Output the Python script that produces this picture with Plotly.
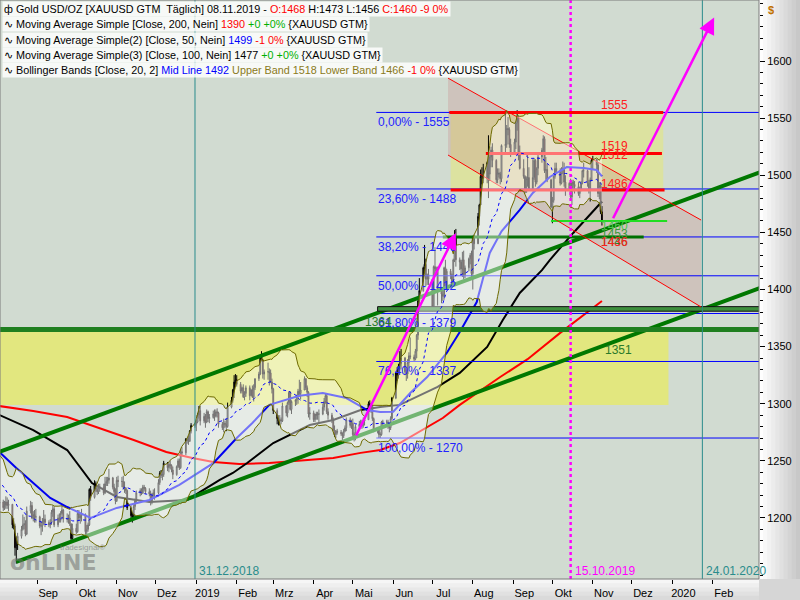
import pandas as pd
import plotly.graph_objects as go

# ---------------- daily XAUUSD prices ----------------
first_open = 1257
close = [
 1255,
 1258,1254,1245,1246,1241, 1240,1227,1225,1223,1231, 1224,1225,1231,1224,1223, 1221,1223,1218,1213,1214,
 1209,1211,1214,1211,1212, 1194,1193,1174,1177,1184, 1190,1194,1195,1186,1206, 1211,1200,1203,1201,1201,
 1193,1193,1197,1199,1196, 1194,1196,1205,1208,1194, 1200,1198,1204,1207,1199, 1199,1200,1195,1182,1191,
 1188,1204,1200,1202,1203, 1188,1190,1194,1225,1218, 1230,1225,1223,1227,1227, 1222,1230,1232,1233,1235,
 1227,1223,1215,1233,1232, 1232,1227,1226,1224,1209, 1202,1201,1210,1215,1222, 1224,1222,1227,1226,1223,
 1221,1214,1220,1222,1222, 1231,1239,1237,1238,1248, 1244,1247,1246,1242,1238, 1245,1250,1244,1258,1257,
 1269,1268,1267,1276,1281, 1282,1284,1290,1294,1285, 1289,1284,1293,1287,1288, 1291,1289,1293,1292,1282,
 1279,1283,1282,1280,1297, 1303,1312,1319,1321,1317, 1311,1314,1306,1309,1314, 1307,1312,1306,1314,1322,
 1326,1341,1338,1326,1328, 1328,1327,1319,1313,1294, 1287,1285,1286,1285,1298, 1292,1301,1310,1295,1302,
 1303,1306,1311,1309,1312, 1322,1314,1310,1291,1292, 1286,1291,1290,1291,1291, 1297,1302,1307,1293,1290,
 1286,1277,1273,1276,1275, 1274,1272,1276,1279,1286, 1281,1283,1273,1271,1280, 1282,1284,1281,1285,1286,
 1300,1296,1298,1287,1277, 1277,1273,1273,1284,1284, 1284,1280,1279,1287,1305, 1327,1325,1333,1335,1340,
 1328,1326,1336,1342,1341, 1339,1346,1360,1390,1399, 1419,1422,1409,1413,1409, 1385,1420,1418,1416,1400,
 1396,1394,1419,1404,1416, 1413,1405,1426,1445,1426, 1424,1418,1426,1413,1419, 1427,1430,1414,1446,1440,
 1464,1474,1499,1500,1497, 1511,1501,1516,1522,1513, 1496,1502,1501,1497,1526, 1527,1541,1540,1527,1520,
 1529,1546,1550,1519,1506, 1499,1485,1497,1498,1488, 1498,1513,1494,1506,1516, 1522,1532,1504,1505,1496,
 1472,1478,1499,1506,1504, 1493,1506,1505,1494,1488, 1493,1481,1494,1492,1490, 1484,1488,1493,1504,1504,
 1493,1487,1496,1513,1514, 1509,1484,1491,1468,1460,
]
high = [
 1262,
 1265,1260,1256,1249,1249, 1245,1243,1229,1227,1233, 1232,1229,1235,1231,1228, 1226,1227,1226,1221,1218,
 1216,1215,1219,1218,1216, 1212,1200,1195,1184,1187, 1193,1203,1201,1198,1210, 1215,1214,1206,1207,1208,
 1202,1197,1200,1207,1203, 1198,1199,1207,1211,1210, 1203,1204,1206,1211,1208, 1204,1203,1206,1195,1195,
 1195,1207,1207,1204,1208, 1204,1194,1196,1226,1228, 1233,1232,1227,1230,1230, 1230,1236,1236,1236,1243,
 1236,1230,1226,1236,1237, 1236,1237,1232,1227,1225, 1211,1205,1212,1217,1224, 1226,1226,1229,1229,1227,
 1226,1224,1222,1225,1226, 1234,1241,1242,1242,1250, 1249,1249,1250,1247,1245, 1246,1252,1252,1260,1262,
 1270,1270,1272,1277,1283, 1283,1286,1292,1298,1298, 1292,1291,1295,1294,1291, 1294,1295,1295,1296,1293,
 1284,1287,1285,1287,1301, 1306,1313,1325,1326,1325, 1319,1315,1317,1311,1316, 1316,1313,1316,1317,1322,
 1328,1342,1346,1339,1330, 1336,1331,1330,1322,1314, 1296,1290,1290,1288,1301, 1299,1302,1311,1311,1303,
 1304,1308,1313,1321,1319, 1324,1322,1316,1311,1297, 1294,1291,1293,1293,1295, 1300,1305,1309,1309,1296,
 1292,1288,1281,1277,1278, 1277,1275,1278,1281,1288, 1288,1286,1287,1275,1282, 1285,1286,1286,1288,1288,
 1302,1303,1300,1299,1288, 1279,1279,1275,1285,1286, 1286,1286,1283,1289,1306, 1328,1332,1335,1346,1348,
 1341,1330,1339,1345,1358, 1343,1348,1361,1393,1410, 1420,1439,1427,1414,1418, 1409,1421,1437,1420,1420,
 1401,1402,1420,1426,1418, 1418,1414,1427,1452,1453, 1428,1426,1433,1434,1421, 1428,1432,1434,1447,1448,
 1467,1475,1505,1507,1510, 1512,1535,1518,1525,1528, 1514,1506,1506,1503,1527, 1555,1544,1551,1542,1532,
 1532,1547,1557,1552,1526, 1514,1500,1499,1520,1507, 1514,1515,1514,1507,1518, 1524,1535,1534,1516,1510,
 1497,1481,1501,1511,1511, 1506,1507,1512,1511,1500, 1494,1497,1496,1496,1495, 1494,1490,1495,1505,1511,
 1505,1496,1498,1514,1517, 1514,1511,1494,1494,1473,
]
low = [
 1252,
 1254,1252,1242,1240,1238, 1237,1225,1219,1211,1221, 1221,1220,1223,1221,1220, 1218,1217,1213,1206,1204,
 1206,1207,1208,1208,1206, 1191,1190,1167,1160,1172, 1182,1189,1190,1184,1185, 1204,1199,1197,1196,1196,
 1191,1185,1188,1194,1192, 1192,1191,1194,1201,1192, 1192,1196,1196,1203,1196, 1196,1195,1193,1180,1181,
 1186,1187,1198,1195,1197, 1183,1185,1188,1193,1215, 1217,1223,1220,1221,1223, 1220,1221,1228,1228,1230,
 1225,1220,1212,1214,1227, 1227,1225,1222,1221,1207, 1200,1196,1200,1207,1213, 1219,1220,1221,1224,1221,
 1219,1211,1212,1218,1216, 1221,1229,1235,1233,1236, 1241,1240,1243,1240,1234, 1237,1244,1242,1243,1254,
 1255,1265,1264,1267,1274, 1279,1276,1283,1287,1281, 1283,1279,1283,1284,1283, 1287,1285,1288,1288,1279,
 1277,1275,1279,1276,1279, 1296,1301,1305,1315,1315, 1309,1309,1305,1303,1306, 1303,1307,1305,1302,1312,
 1320,1325,1337,1322,1321, 1321,1316,1318,1309,1291, 1282,1281,1281,1282,1284, 1289,1288,1299,1294,1291,
 1298,1299,1300,1306,1304, 1312,1312,1306,1288,1286, 1284,1284,1286,1286,1283, 1290,1294,1300,1291,1286,
 1283,1276,1271,1270,1273, 1272,1266,1270,1275,1276, 1279,1278,1271,1267,1268, 1277,1280,1278,1279,1281,
 1286,1293,1292,1285,1275, 1274,1270,1270,1272,1280, 1281,1278,1275,1277,1286, 1304,1320,1322,1330,1330,
 1325,1320,1322,1331,1339, 1337,1338,1340,1356,1383, 1398,1414,1403,1404,1404, 1381,1384,1412,1412,1386,
 1388,1390,1391,1401,1403, 1409,1401,1405,1424,1420, 1417,1412,1411,1409,1410, 1416,1422,1411,1400,1435,
 1440,1456,1474,1492,1493, 1493,1480,1495,1507,1507, 1493,1493,1498,1492,1494, 1518,1524,1535,1524,1516,
 1518,1523,1539,1513,1505, 1497,1484,1485,1490,1487, 1486,1496,1490,1492,1500, 1511,1518,1502,1496,1494,
 1471,1458,1476,1497,1501, 1491,1492,1501,1490,1482, 1486,1480,1474,1486,1484, 1482,1480,1486,1492,1498,
 1490,1484,1477,1495,1505, 1502,1481,1479,1466,1456,
]

# ---------------- moving averages ----------------
ma200_date = ["2018-08-03","2018-08-29","2018-09-24","2018-10-19","2018-11-14","2018-12-09","2018-12-29",
              "2019-01-14","2019-02-03","2019-02-26","2019-03-21","2019-04-16","2019-05-07","2019-05-22",
              "2019-06-06","2019-06-27","2019-07-09","2019-07-22","2019-08-22","2019-09-12","2019-10-07",
              "2019-11-01","2019-11-08"]
ma200_val = [1298,1293.6,1288.4,1278.8,1268.3,1257.8,1252.5,1249,1247.3,1248.1,1250,1252.5,1257,1259.5,
             1265.6,1279.7,1287.5,1299,1323.4,1339,1362,1383.8,1390]

ma100_date = ["2018-08-03","2018-08-29","2018-09-24","2018-10-13","2018-11-01","2018-11-26","2018-12-25",
              "2019-01-19","2019-01-29","2019-02-09","2019-03-01","2019-03-29","2019-04-16","2019-05-07",
              "2019-05-22","2019-06-06","2019-07-05","2019-07-22","2019-08-12","2019-08-24","2019-09-06",
              "2019-09-23","2019-09-29","2019-10-17","2019-11-07","2019-11-08"]
ma100_val = [1290.2,1277,1259.5,1230.6,1218.4,1214,1215.8,1233.3,1239.4,1248.1,1265.6,1281.4,1285.8,1294.5,
             1297.2,1299,1314.7,1327,1349.7,1373.3,1397,1417,1425.8,1449.5,1475.7,1477]

ma50_date = ["2018-08-03","2018-08-16","2018-09-11","2018-09-24","2018-10-12","2018-11-01","2018-11-26",
             "2018-12-19","2019-01-14","2019-02-01","2019-02-13","2019-02-26","2019-03-21","2019-04-08",
             "2019-04-26","2019-05-12","2019-05-22","2019-06-01","2019-06-14","2019-06-27","2019-07-12",
             "2019-07-22","2019-08-04","2019-08-09","2019-08-14","2019-08-23","2019-09-06","2019-09-16",
             "2019-09-29","2019-10-12","2019-10-25","2019-11-04","2019-11-08"]
ma50_val = [1257.8,1243.8,1217.5,1209.6,1200,1208.8,1215.8,1229,1248,1270,1283.2,1299,1307,1309.4,1305,
            1294.5,1292.8,1293,1309.4,1323.4,1344.5,1362.8,1389,1411,1432,1451,1469.6,1484.5,1498.5,
            1507.2,1506.3,1504.6,1499]

# ---------------- drawing objects (levels / lines) ----------------
fib_pct = ["0,00%", "23,60%", "38,20%", "50,00%", "61,80%", "76,40%", "100,00%"]
fib_lvl = [1555, 1488, 1446, 1412, 1379, 1337, 1270]
fib_start, fib_end = "2019-05-19", "2020-03-20"

red_lvl = [1555, 1519, 1487]
red_from = ["2019-07-14", "2019-08-11", "2019-07-15"]
red_to = ["2019-12-25", "2019-12-24", "2019-12-26"]

up_trend_d, up_trend_p = ["2018-08-03", "2020-03-08"], [1257.8, 1502.5]
lo_trend_d, lo_trend_p = ["2018-08-16", "2020-03-08"], [1161.5, 1401.3]
chan_up_d, chan_up_p = ["2019-07-13", "2020-01-23"], [1585, 1460.8]
chan_lo_d, chan_lo_p = ["2019-07-13", "2020-01-23"], [1517.7, 1384.7]

big_arrow_tail, big_arrow_head = ("2019-11-16", 1461), ("2020-02-02", 1638)
small_arrow_tail, small_arrow_head = ("2019-05-03", 1271), ("2019-07-19", 1449.5)

month_ticks = pd.date_range("2018-09-01", "2020-02-01", freq="MS")
month_text = ["Sep", "Okt", "Nov", "Dez", "2019", "Feb", "Mrz", "Apr", "Mai", "Jun", "Jul", "Aug",
              "Sep", "Okt", "Nov", "Dez", "2020", "Feb"]
price_ticks = [1200, 1250, 1300, 1350, 1400, 1450, 1500, 1550, 1600]

# ---------------- prepare series ----------------
dates = pd.bdate_range("2018-07-06", "2019-11-08")
n = min(len(dates), len(close), len(high), len(low))
dates = dates[:n]
close, high, low = close[:n], high[:n], low[:n]
opens = [first_open] + close[:-1]

s = pd.Series(close, index=dates, dtype=float)
bb_mid = s.rolling(20).mean()
bb_sd = s.rolling(20).std(ddof=0)
bb_up = (bb_mid + 2 * bb_sd).dropna()
bb_lo = (bb_mid - 2 * bb_sd).dropna()
bb_mid = bb_mid.dropna()

FONT = "Liberation Sans, Arial, sans-serif"
PW, PH = 759, 579


def PX(x):
    return x / PW


def PY(y):
    return 1 - y / PH


fig = go.Figure()

fig.add_trace(go.Candlestick(
    x=dates, open=opens, high=high, low=low, close=close,
    increasing=dict(line=dict(color="black", width=1), fillcolor="#f2f2f2"),
    decreasing=dict(line=dict(color="black", width=1), fillcolor="#ff1a1a"),
    whiskerwidth=0, showlegend=False, hoverinfo="skip"))

def line(x, y, color, width, dash=None):
    fig.add_trace(go.Scatter(x=x, y=y, mode="lines", showlegend=False, hoverinfo="skip",
                             line=dict(color=color, width=width, dash=dash)))

# moving averages
line(ma200_date, ma200_val, "#ff0000", 2)
line(ma100_date, ma100_val, "#000000", 2)
line(ma50_date, ma50_val, "#0000f0", 2)

# Fibonacci lines
for lv in fib_lvl:
    line([fib_start, fib_end], [lv, lv], "#0000ff", 1)

# trend lines and levels
line(up_trend_d, up_trend_p, "#007800", 4)
line(lo_trend_d, lo_trend_p, "#007800", 4)
line(["2018-07-01", "2020-03-20"], [1365, 1365], "#1f7f1f", 5)
fig.add_trace(go.Scatter(x=["2019-05-20", "2020-03-20", "2020-03-20", "2019-05-20", "2019-05-20"],
                         y=[1381, 1381, 1385, 1385, 1381], mode="lines", fill="toself",
                         fillcolor="#3d8f3d", line=dict(color="#101010", width=1),
                         showlegend=False, hoverinfo="skip"))
line(["2019-07-09", "2019-12-10"], [1446, 1446], "#007000", 3)
line(["2019-09-30", "2019-12-28"], [1460, 1460], "#22dd22", 2)
for lv, a, b in zip(red_lvl, red_from, red_to):
    line([a, b], [lv, lv], "#ff0000", 3)
line(chan_up_d, chan_up_p, "#ff0000", 1)
line(chan_lo_d, chan_lo_p, "#ff0000", 1)

# Bollinger band fill (translucent, drawn over price)
fig.add_trace(go.Scatter(x=bb_lo.index, y=bb_lo.values, mode="lines", line=dict(width=0),
                         showlegend=False, hoverinfo="skip"))
fig.add_trace(go.Scatter(x=bb_up.index, y=bb_up.values, mode="lines", line=dict(width=0),
                         fill="tonexty", fillcolor="rgba(255,255,255,0.45)",
                         showlegend=False, hoverinfo="skip"))
line(bb_up.index, bb_up.values, "#6e6a00", 1)
line(bb_lo.index, bb_lo.values, "#6e6a00", 1)
line(bb_mid.index, bb_mid.values, "#0000ff", 1, "dot")

shapes = []
# translucent zones (below everything)
shapes.append(dict(type="rect", xref="x", yref="y", x0="2018-07-01", x1="2019-12-29", y0=1299, y1=1364,
                   fillcolor="rgba(240,240,60,0.55)", line=dict(width=0), layer="below"))
shapes.append(dict(type="rect", xref="x", yref="y", x0="2019-07-15", x1="2019-12-25", y0=1487, y1=1555,
                   fillcolor="rgba(240,240,70,0.35)", line=dict(width=0), layer="below"))
shapes.append(dict(type="path", xref="x", yref="y", layer="below",
                   path=f"M{chan_up_d[0]},{chan_up_p[0]} L{chan_up_d[1]},{chan_up_p[1]} "
                        f"L{chan_lo_d[1]},{chan_lo_p[1]} L{chan_lo_d[0]},{chan_lo_p[0]} Z",
                   fillcolor="rgba(200,140,140,0.30)", line=dict(width=0)))
# vertical marker lines
for d, c in [("2018-12-31", "#2a8c8c"), ("2020-01-24", "#2a8c8c")]:
    shapes.append(dict(type="line", xref="x", yref="paper", x0=d, x1=d, y0=0, y1=1,
                       line=dict(color=c, width=1), layer="above"))
shapes.append(dict(type="line", xref="x", yref="paper", x0="2019-10-15", x1="2019-10-15", y0=0, y1=1,
                   line=dict(color="#ff00ff", width=2.5, dash="dot"), layer="above"))
# axis panels (gradients)
steps = 10
for i in range(steps):
    g = int(254 - i * 6)
    shapes.append(dict(type="rect", xref="paper", yref="paper", layer="below",
                       x0=1 + i * (41 / PW) / steps, x1=1 + (i + 1) * (41 / PW) / steps + 0.001,
                       y0=-21 / PH, y1=1, fillcolor=f"rgb({g},{g},{g})", line=dict(width=0)))
for i in range(5):
    g = int(246 - i * 7)
    shapes.append(dict(type="rect", xref="paper", yref="paper", layer="below",
                       x0=0, x1=1, y0=-(i * 21 / 5) / PH, y1=-((i + 1) * 21 / 5) / PH - 0.001,
                       fillcolor=f"rgb({g},{g},{g})", line=dict(width=0)))
shapes.append(dict(type="rect", xref="paper", yref="paper", x0=1, x1=800 / PW, y0=-21 / PH, y1=0,
                   fillcolor="#d6d6d6", line=dict(width=0), layer="below"))
shapes.append(dict(type="rect", xref="paper", yref="paper", x0=0, x1=1, y0=0, y1=1,
                   line=dict(color="#7a7a7a", width=1), layer="above"))

ann = []
# legend rows
RED, GRN, BLU, OLV = "#ff0000", "#00b000", "#0000ff", "#8a7a20"
def sp(t, c):
    return f"<span style='color:{c}'>{t}</span>"
rows = [
    "ф Gold USD/OZ [XAUUSD GTM  Täglich] 08.11.2019 - " + sp("O:1468", RED) + " H:1473 L:1456 " + sp("C:1460 -9 0%", RED),
    "∿ Moving Average Simple [Close, 200, Nein] " + sp("1390", RED) + " " + sp("+0 +0%", GRN) + " {XAUUSD GTM}",
    "∿ Moving Average Simple(2) [Close, 50, Nein] " + sp("1499", BLU) + " " + sp("-1 0%", RED) + " {XAUUSD GTM}",
    "∿ Moving Average Simple(3) [Close, 100, Nein] 1477 " + sp("+0 +0%", GRN) + " {XAUUSD GTM}",
    "∿ Bollinger Bands [Close, 20, 2] " + sp("Mid Line 1492", BLU) + " " + sp("Upper Band 1518 Lower Band 1466", OLV)
    + " " + sp("-1 0%", RED) + " {XAUUSD GTM}",
]
for i, r in enumerate(rows):
    ann.append(dict(text=r, xref="paper", yref="paper", x=PX(2), y=PY(9 + i * 15.3), xanchor="left",
                    yanchor="middle", showarrow=False, bgcolor="rgba(255,255,255,0.82)", borderpad=1,
                    font=dict(family=FONT, size=10.8, color="black")))
# fibonacci labels
for p, lv in zip(fib_pct, fib_lvl):
    ann.append(dict(text=f"{p} - {lv}", xref="paper", yref="y", x=PX(376), y=lv, xanchor="left",
                    yanchor="top", yshift=-1, showarrow=False,
                    font=dict(family=FONT, size=12, color="#2222ff")))
# level labels
lvl_labels = [("1555", 614, 105, "#ff2020"), ("1519", 614, 146, "#ff2020"), ("1512", 614, 155, "#ff2020"),
              ("1486", 614, 184, "#ff2020"), ("1460", 614, 226, "#4cc84c"), ("1453", 614, 234, "#3a9a3a"),
              ("1446", 614, 242, "#2a7a2a"), ("1436", 614, 242, "#ff2020"), ("1351", 618, 350, "#2a7a2a"),
              ("1364", 378, 322, "#2a7a2a")]
for t, x, y, c in lvl_labels:
    ann.append(dict(text=t, xref="paper", yref="paper", x=PX(x), y=PY(y), xanchor="center",
                    yanchor="middle", showarrow=False, font=dict(family=FONT, size=12, color=c)))
# date labels
for d, c in [("31.12.2018", "#2a8c8c"), ("15.10.2019", "#ff00ff"), ("24.01.2020", "#2a8c8c")]:
    dd = pd.to_datetime(d, format="%d.%m.%Y")
    ann.append(dict(text=d, xref="x", yref="paper", x=dd, y=PY(571), xanchor="left", xshift=2,
                    yanchor="middle", showarrow=False, font=dict(family=FONT, size=12, color=c)))
# arrows
for tail, head in [(big_arrow_tail, big_arrow_head), (small_arrow_tail, small_arrow_head)]:
    ann.append(dict(x=head[0], y=head[1], ax=tail[0], ay=tail[1], xref="x", yref="y", axref="x",
                    ayref="y", text="", showarrow=True, arrowhead=2, arrowsize=1.3, arrowwidth=2.5,
                    arrowcolor="#ff00ff"))
# logo and currency
ann.append(dict(text="<b>onLINE</b>", xref="paper", yref="paper", x=PX(8), y=PY(562), xanchor="left",
                yanchor="middle", showarrow=False,
                font=dict(family="DejaVu Sans, sans-serif", size=22, color="rgba(110,110,110,0.55)")))
ann.append(dict(text="tradesignal®", xref="paper", yref="paper", x=PX(58), y=PY(547), xanchor="left",
                yanchor="middle", showarrow=False,
                font=dict(family=FONT, size=8, color="rgba(110,110,110,0.6)")))
ann.append(dict(text="<b>$</b>", xref="paper", yref="paper", x=PX(766), y=PY(10), xanchor="left",
                yanchor="middle", showarrow=False, font=dict(family=FONT, size=11, color="#c07000")))

fig.update_layout(
    width=800, height=600,
    margin=dict(l=0, r=41, t=0, b=21, pad=0),
    paper_bgcolor="#e6e6e6", plot_bgcolor="#d1dbd1",
    showlegend=False, shapes=shapes, annotations=ann,
    font=dict(family=FONT, size=11, color="black"),
    boxgap=0.1,
    xaxis=dict(type="date", range=["2018-08-03 12:00", "2020-03-07 10:00"], showgrid=False,
               zeroline=False, rangeslider=dict(visible=False), tickmode="array",
               tickvals=month_ticks, ticktext=month_text, ticks="outside", ticklen=4,
               tickcolor="black", ticklabelshift=11, tickfont=dict(size=11, family=FONT),
               fixedrange=True),
    yaxis=dict(side="right", range=[1146.6, 1653.4], showgrid=False, zeroline=False,
               tickmode="array", tickvals=price_ticks, ticks="outside", ticklen=5, tickcolor="black",
               minor=dict(ticks="outside", ticklen=3, tickmode="linear", tick0=1150, dtick=10,
                          tickcolor="black", showgrid=False),
               tickfont=dict(size=11, family=FONT), fixedrange=True),
)

fig.write_html("out.html", config={"displayModeBar": False, "staticPlot": True},
               post_script="document.body.style.margin='0';document.body.style.padding='0';"
                           "document.body.style.overflow='hidden';")
